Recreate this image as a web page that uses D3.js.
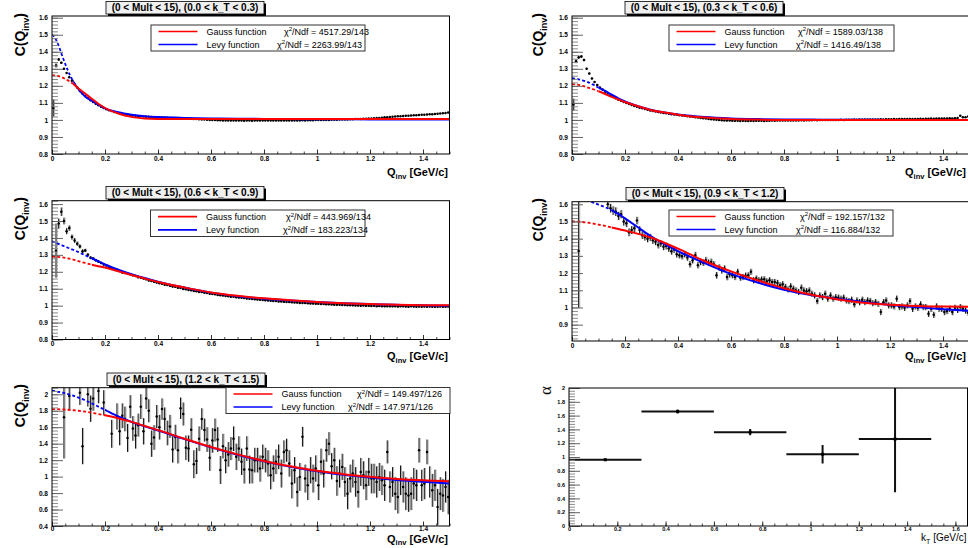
<!DOCTYPE html>
<html>
<head>
<meta charset="utf-8">
<script src="https://cdn.jsdelivr.net/npm/d3@7"></script>
<style>
  html, body { margin: 0; padding: 0; background: #fff; }
  svg { display: block; font-family: "Liberation Sans", Arial, Helvetica, sans-serif; }
</style>
</head>
<body>
<svg id="canvas" width="968" height="548"></svg>
<script>
// ---------------------------------------------------------------------------
// Data: two-pion correlation functions C(Q_inv) in five k_T bins,
// 0 < Mult < 15, 150 bins of 0.01 GeV/c, with Gauss and Levy fits.
// ---------------------------------------------------------------------------
const qBinCentres = d3.range(150).map(i => +(0.005 + 0.01 * i).toFixed(3));

const ktBinLabels = [["0.0", "0.3"], ["0.3", "0.6"], ["0.6", "0.9"], ["0.9", "1.2"], ["1.2", "1.5"]];

// correlation function values, k_T 0.0-0.3
const cfKt1 = [
  1.07, 1.32, 1.355, 1.335, 1.30, 1.275, 1.25, 1.23, 1.21, 1.19,
  1.17, 1.155, 1.14, 1.128, 1.116, 1.105, 1.095, 1.086, 1.077, 1.07,
  1.063, 1.057, 1.052, 1.047, 1.043, 1.039, 1.036, 1.033, 1.030, 1.028,
  1.026, 1.024, 1.022, 1.021, 1.020, 1.019, 1.018, 1.017, 1.016, 1.016,
  1.015, 1.014, 1.014, 1.013, 1.012, 1.012, 1.011, 1.011, 1.010, 1.010,
  1.009, 1.008, 1.007, 1.006, 1.005, 1.004, 1.003, 1.002, 1.001, 1.000,
  0.999, 0.999, 0.998, 0.998, 0.997, 0.997, 0.997, 0.996, 0.996, 0.996,
  0.996, 0.996, 0.995, 0.996, 0.996, 0.995, 0.996, 0.996, 0.996, 0.996,
  0.996, 0.996, 0.997, 0.996, 0.996, 0.997, 0.997, 0.996, 0.997, 0.997,
  0.997, 0.997, 0.996, 0.997, 0.998, 0.997, 0.998, 0.998, 0.998, 0.999,
  0.999, 0.999, 1.000, 1.000, 1.000, 1.001, 1.001, 1.001, 1.002, 1.002,
  1.003, 1.003, 1.004, 1.004, 1.005, 1.005, 1.006, 1.007, 1.007, 1.008,
  1.008, 1.010, 1.011, 1.012, 1.013, 1.015, 1.016, 1.017, 1.018, 1.020,
  1.021, 1.022, 1.023, 1.024, 1.025, 1.026, 1.027, 1.028, 1.029, 1.030,
  1.031, 1.032, 1.033, 1.034, 1.035, 1.036, 1.037, 1.039, 1.041, 1.044
];
const cfErrKt1 = [
  0.05, 0.012, 0.008, 0.006, 0.005, 0.005, 0.004, 0.004, 0.004, 0.003,
  0.003, 0.003, 0.003, 0.003, 0.003, 0.003, 0.003, 0.003, 0.003, 0.003,
  0.002, 0.002, 0.002, 0.002, 0.002, 0.002, 0.002, 0.002, 0.002, 0.002,
  0.002, 0.002, 0.002, 0.002, 0.002, 0.002, 0.002, 0.002, 0.002, 0.002,
  0.002, 0.002, 0.002, 0.002, 0.002, 0.002, 0.002, 0.002, 0.002, 0.002,
  0.002, 0.002, 0.002, 0.002, 0.002, 0.002, 0.002, 0.002, 0.002, 0.002,
  0.002, 0.002, 0.002, 0.002, 0.002, 0.002, 0.002, 0.002, 0.002, 0.002,
  0.002, 0.002, 0.002, 0.002, 0.002, 0.002, 0.002, 0.002, 0.002, 0.002,
  0.002, 0.002, 0.002, 0.002, 0.002, 0.002, 0.002, 0.002, 0.002, 0.002,
  0.002, 0.002, 0.002, 0.002, 0.002, 0.002, 0.002, 0.002, 0.002, 0.002,
  0.002, 0.002, 0.002, 0.002, 0.002, 0.002, 0.002, 0.002, 0.002, 0.002,
  0.002, 0.002, 0.002, 0.002, 0.002, 0.002, 0.002, 0.002, 0.002, 0.002,
  0.002, 0.002, 0.002, 0.002, 0.002, 0.002, 0.002, 0.002, 0.002, 0.002,
  0.002, 0.002, 0.002, 0.002, 0.002, 0.002, 0.002, 0.002, 0.002, 0.002,
  0.002, 0.002, 0.002, 0.002, 0.002, 0.002, 0.002, 0.002, 0.002, 0.002
];

// k_T 0.3-0.6
const cfKt2 = [
  1.09, 1.345, 1.368, 1.372, 1.352, 1.30, 1.272, 1.243, 1.222, 1.205,
  1.19, 1.178, 1.166, 1.155, 1.145, 1.136, 1.127, 1.119, 1.112, 1.105,
  1.099, 1.093, 1.087, 1.082, 1.077, 1.072, 1.068, 1.064, 1.060, 1.056,
  1.053, 1.050, 1.047, 1.044, 1.041, 1.039, 1.036, 1.034, 1.032, 1.030,
  1.028, 1.026, 1.024, 1.022, 1.020, 1.018, 1.016, 1.014, 1.012, 1.010,
  1.008, 1.006, 1.004, 1.002, 1.001, 0.999, 0.998, 0.997, 0.996, 0.996,
  0.995, 0.995, 0.995, 0.994, 0.995, 0.994, 0.994, 0.995, 0.994, 0.995,
  0.995, 0.995, 0.994, 0.995, 0.995, 0.996, 0.995, 0.996, 0.996, 0.996,
  0.996, 0.997, 0.996, 0.997, 0.997, 0.997, 0.998, 0.997, 0.998, 0.998,
  0.998, 0.999, 0.998, 0.999, 0.999, 1.000, 0.999, 1.000, 1.000, 1.000,
  1.000, 1.001, 1.000, 1.001, 1.001, 1.001, 1.002, 1.001, 1.002, 1.002,
  1.002, 1.003, 1.002, 1.003, 1.003, 1.003, 1.004, 1.003, 1.004, 1.004,
  1.004, 1.005, 1.004, 1.005, 1.005, 1.005, 1.006, 1.005, 1.006, 1.006,
  1.006, 1.007, 1.006, 1.007, 1.007, 1.008, 1.007, 1.008, 1.008, 1.009,
  1.008, 1.009, 1.010, 1.009, 1.010, 1.012, 1.025, 1.015, 1.016, 1.020
];
const cfErrKt2 = [
  0.035, 0.012, 0.010, 0.008, 0.007, 0.006, 0.005, 0.005, 0.005, 0.005,
  0.004, 0.004, 0.004, 0.004, 0.004, 0.004, 0.004, 0.004, 0.004, 0.004,
  0.004, 0.004, 0.004, 0.004, 0.004, 0.004, 0.004, 0.004, 0.004, 0.004,
  0.003, 0.003, 0.003, 0.003, 0.003, 0.003, 0.003, 0.003, 0.003, 0.003,
  0.003, 0.003, 0.003, 0.003, 0.003, 0.003, 0.003, 0.003, 0.003, 0.003,
  0.003, 0.003, 0.003, 0.003, 0.003, 0.003, 0.003, 0.003, 0.003, 0.003,
  0.003, 0.003, 0.003, 0.003, 0.003, 0.003, 0.003, 0.003, 0.003, 0.003,
  0.003, 0.003, 0.003, 0.003, 0.003, 0.003, 0.003, 0.003, 0.003, 0.003,
  0.003, 0.003, 0.003, 0.003, 0.003, 0.003, 0.003, 0.003, 0.003, 0.003,
  0.003, 0.003, 0.003, 0.003, 0.003, 0.003, 0.003, 0.003, 0.003, 0.003,
  0.003, 0.003, 0.003, 0.003, 0.003, 0.003, 0.003, 0.003, 0.003, 0.003,
  0.003, 0.003, 0.003, 0.003, 0.003, 0.003, 0.003, 0.003, 0.003, 0.003,
  0.003, 0.003, 0.003, 0.003, 0.003, 0.003, 0.003, 0.003, 0.003, 0.003,
  0.003, 0.003, 0.003, 0.003, 0.003, 0.003, 0.003, 0.003, 0.003, 0.003,
  0.003, 0.003, 0.003, 0.003, 0.003, 0.003, 0.003, 0.003, 0.003, 0.003
];

// k_T 0.6-0.9
const cfKt3 = [
  null, 1.325, 1.485, 1.555, 1.50, 1.44, 1.458, 1.405, 1.385, 1.366,
  1.35, 1.322, 1.326, 1.30, 1.283, 1.278, 1.268, 1.26, 1.252, 1.243,
  1.237, 1.229, 1.222, 1.217, 1.211, 1.205, 1.196, 1.193, 1.188, 1.186,
  1.179, 1.175, 1.168, 1.165, 1.160, 1.156, 1.149, 1.146, 1.141, 1.137,
  1.133, 1.130, 1.124, 1.122, 1.117, 1.113, 1.111, 1.106, 1.104, 1.099,
  1.097, 1.093, 1.091, 1.087, 1.085, 1.081, 1.080, 1.076, 1.074, 1.071,
  1.069, 1.067, 1.063, 1.062, 1.060, 1.057, 1.056, 1.053, 1.052, 1.049,
  1.048, 1.046, 1.045, 1.042, 1.041, 1.039, 1.038, 1.036, 1.035, 1.033,
  1.032, 1.031, 1.029, 1.028, 1.027, 1.025, 1.025, 1.023, 1.022, 1.021,
  1.020, 1.019, 1.018, 1.016, 1.016, 1.015, 1.014, 1.013, 1.013, 1.011,
  1.011, 1.010, 1.009, 1.008, 1.008, 1.007, 1.006, 1.006, 1.005, 1.004,
  1.004, 1.003, 1.003, 1.002, 1.001, 1.001, 1.000, 1.001, 0.999, 0.999,
  0.998, 0.999, 0.997, 0.998, 0.997, 0.996, 0.997, 0.996, 0.996, 0.997,
  0.995, 0.996, 0.996, 0.995, 0.994, 0.996, 0.995, 0.994, 0.995, 0.994,
  0.995, 0.993, 0.995, 0.994, 0.994, 0.993, 0.995, 0.994, 0.993, 0.995
];
const cfErrKt3 = [
  null, 0.16, 0.03, 0.025, 0.02, 0.018, 0.016, 0.015, 0.014, 0.013,
  0.012, 0.011, 0.010, 0.010, 0.009, 0.009, 0.008, 0.008, 0.007, 0.007,
  0.006, 0.006, 0.006, 0.006, 0.006, 0.006, 0.006, 0.006, 0.006, 0.006,
  0.006, 0.006, 0.006, 0.006, 0.006, 0.006, 0.006, 0.006, 0.006, 0.006,
  0.006, 0.006, 0.006, 0.006, 0.006, 0.006, 0.006, 0.006, 0.006, 0.006,
  0.005, 0.005, 0.005, 0.005, 0.005, 0.005, 0.005, 0.005, 0.005, 0.005,
  0.005, 0.005, 0.005, 0.005, 0.005, 0.005, 0.005, 0.005, 0.005, 0.005,
  0.005, 0.005, 0.005, 0.005, 0.005, 0.005, 0.005, 0.005, 0.005, 0.005,
  0.005, 0.005, 0.005, 0.005, 0.005, 0.005, 0.005, 0.005, 0.005, 0.005,
  0.005, 0.005, 0.005, 0.005, 0.005, 0.005, 0.005, 0.005, 0.005, 0.005,
  0.005, 0.005, 0.005, 0.005, 0.005, 0.005, 0.005, 0.005, 0.005, 0.005,
  0.005, 0.005, 0.005, 0.005, 0.005, 0.005, 0.005, 0.005, 0.005, 0.005,
  0.005, 0.005, 0.005, 0.005, 0.005, 0.005, 0.005, 0.005, 0.005, 0.005,
  0.005, 0.005, 0.005, 0.005, 0.005, 0.005, 0.005, 0.005, 0.005, 0.005,
  0.005, 0.005, 0.005, 0.005, 0.005, 0.005, 0.005, 0.005, 0.005, 0.005
];

// k_T 0.9-1.2 (bins above the frame are left out)
const cfKt4 = [
  null, null, 1.328, null, null, null, null, null, null, null,
  null, null, null, 1.600, 1.577, 1.563, 1.557, 1.532, 1.542, 1.500,
  1.490, 1.437, 1.450, 1.460, 1.505, 1.450, 1.420, 1.410, 1.400, 1.407,
  1.390, 1.382, 1.363, 1.372, 1.353, 1.357, 1.343, 1.327, 1.337, 1.310,
  1.304, 1.298, 1.310, 1.290, 1.251, 1.275, 1.304, 1.246, 1.265, 1.260,
  1.275, 1.260, 1.265, 1.251, 1.187, 1.232, 1.216, 1.226, 1.177, 1.193,
  1.187, 1.177, 1.207, 1.173, 1.177, 1.185, 1.187, 1.207, 1.158, 1.168,
  1.158, 1.162, 1.164, 1.152, 1.158, 1.148, 1.148, 1.142, 1.129, 1.135,
  1.119, 1.105, 1.123, 1.109, 1.099, 1.090, 1.115, 1.099, 1.094, 1.099,
  1.080, 1.070, 1.037, 1.070, 1.060, 1.080, 1.051, 1.070, 1.051, 1.060,
  1.057, 1.051, 1.057, 1.041, 1.037, 1.045, 1.018, 1.041, 1.031, 1.045,
  1.031, 1.041, 1.037, 1.025, 1.031, 1.021, 0.973, 1.031, 1.041, 1.012,
  1.012, 1.006, 1.051, 1.002, 1.006, 0.998, 1.012, 1.037, 0.992, 1.006,
  0.998, 1.018, 1.002, 1.002, 0.963, 0.992, 0.957, 1.006, 0.992, 0.992,
  0.973, 0.979, 0.992, 0.973, 0.998, 0.986, 1.002, 0.992, 0.982, 0.969
];
const cfErrKt4 = [
  null, null, 0.33, null, null, null, null, null, null, null,
  null, null, null, 0.025, 0.025, 0.025, 0.025, 0.024, 0.024, 0.024,
  0.023, 0.023, 0.023, 0.022, 0.022, 0.022, 0.022, 0.021, 0.021, 0.021,
  0.021, 0.020, 0.020, 0.020, 0.020, 0.020, 0.020, 0.020, 0.020, 0.020,
  0.019, 0.019, 0.019, 0.019, 0.019, 0.019, 0.019, 0.019, 0.019, 0.019,
  0.019, 0.019, 0.019, 0.019, 0.019, 0.019, 0.019, 0.019, 0.019, 0.019,
  0.018, 0.018, 0.018, 0.018, 0.018, 0.018, 0.018, 0.018, 0.018, 0.018,
  0.018, 0.018, 0.018, 0.018, 0.018, 0.018, 0.018, 0.018, 0.018, 0.018,
  0.018, 0.018, 0.018, 0.018, 0.018, 0.018, 0.018, 0.018, 0.018, 0.018,
  0.018, 0.018, 0.018, 0.018, 0.018, 0.018, 0.018, 0.018, 0.018, 0.018,
  0.018, 0.018, 0.018, 0.018, 0.018, 0.018, 0.018, 0.018, 0.018, 0.018,
  0.018, 0.018, 0.018, 0.018, 0.018, 0.018, 0.018, 0.018, 0.018, 0.018,
  0.018, 0.018, 0.018, 0.018, 0.018, 0.018, 0.018, 0.018, 0.018, 0.018,
  0.018, 0.018, 0.018, 0.018, 0.018, 0.018, 0.018, 0.018, 0.018, 0.018,
  0.018, 0.018, 0.018, 0.018, 0.018, 0.018, 0.018, 0.018, 0.018, 0.018
];

// k_T 1.2-1.5 (bins above the frame are left out)
const cfKt5 = [
  null, null, null, null, 1.72, null, 1.98, null, null, null,
  2.02, 1.37, null, 2.00, 1.825, 1.95, null, 2.04, null, 1.90,
  null, null, 1.52, null, 1.73, 1.55, 1.74, 1.70, 1.47, 1.85,
  1.585, 1.50, 1.625, 1.85, 1.55, 1.95, 1.80, 1.40, 1.475, 1.73,
  1.60, 1.82, 1.70, 1.53, 1.61, 1.33, 1.48, 1.32, 1.83, 1.76,
  1.35, 1.34, 1.57, 1.15, 1.19, 1.46, 1.70, 1.565, 1.45, 1.23,
  1.44, 1.565, 1.45, 1.08, 1.37, 1.20, 1.27, 1.34, 1.46, 1.24,
  1.34, 1.18, 1.085, 1.34, 1.085, 1.077, 1.20, 1.20, 1.098, 1.24,
  1.20, 1.16, 1.016, 1.098, 1.18, 1.24, 1.037, 1.30, 1.32, 1.16,
  0.915, 1.077, 0.813, 0.996, 1.484, 0.976, 0.894, 1.077, 0.976, 1.098,
  0.894, 1.18, 1.037, 1.32, 1.40, 1.126, 1.20, 0.947, 1.037, 1.118,
  0.935, 0.793, 0.976, 1.037, 0.935, 0.813, 1.057, 1.016, 0.894, 1.057,
  0.976, 0.976, 0.935, 0.996, 0.955, 0.894, 1.30, 0.874, 0.935, 0.793,
  0.752, 0.955, 0.874, 0.793, 0.772, 0.793, 0.915, 0.894, 1.32, 0.894,
  0.915, 1.30, 0.935, 0.833, 0.894, 0.63, 0.793, 0.772, 0.874, 0.752
];
const cfErrKt5 = [
  null, null, null, null, 0.5, null, 0.16, null, null, null,
  0.15, 0.22, null, 0.15, 0.16, 0.15, null, 0.15, null, 0.15,
  null, null, 0.17, null, 0.16, 0.17, 0.15, 0.15, 0.17, 0.14,
  0.15, 0.16, 0.14, 0.15, 0.16, 0.13, 0.14, 0.16, 0.15, 0.14,
  0.15, 0.13, 0.14, 0.15, 0.14, 0.16, 0.15, 0.16, 0.13, 0.14,
  0.15, 0.16, 0.14, 0.17, 0.16, 0.15, 0.13, 0.14, 0.15, 0.16,
  0.15, 0.14, 0.15, 0.17, 0.15, 0.16, 0.15, 0.14, 0.15, 0.16,
  0.15, 0.16, 0.17, 0.15, 0.17, 0.16, 0.15, 0.15, 0.16, 0.15,
  0.15, 0.16, 0.17, 0.16, 0.15, 0.15, 0.17, 0.14, 0.14, 0.16,
  0.18, 0.16, 0.18, 0.17, 0.12, 0.17, 0.18, 0.16, 0.17, 0.16,
  0.18, 0.16, 0.17, 0.14, 0.14, 0.16, 0.15, 0.18, 0.17, 0.16,
  0.18, 0.19, 0.17, 0.17, 0.18, 0.19, 0.17, 0.17, 0.18, 0.17,
  0.18, 0.18, 0.19, 0.17, 0.18, 0.19, 0.14, 0.19, 0.18, 0.20,
  0.20, 0.18, 0.19, 0.20, 0.20, 0.20, 0.19, 0.19, 0.15, 0.19,
  0.19, 0.15, 0.19, 0.20, 0.19, 0.22, 0.20, 0.20, 0.19, 0.21
];

// fit curves, sampled at these Q_inv values (GeV/c)
const fitKnots = [0, 0.01, 0.02, 0.04, 0.06, 0.08, 0.1, 0.125, 0.15, 0.175, 0.2, 0.25, 0.3,
                  0.35, 0.4, 0.5, 0.6, 0.7, 0.8, 0.9, 1.0, 1.1, 1.2, 1.3, 1.4, 1.5];

const gaussKt1 = [1.262, 1.261, 1.258, 1.248, 1.232, 1.212, 1.185, 1.155, 1.124, 1.095, 1.070, 1.038, 1.018,
                  1.009, 1.006, 1.005, 1.005, 1.005, 1.005, 1.005, 1.005, 1.005, 1.005, 1.005, 1.005, 1.005];
const levyKt1  = [1.500, 1.485, 1.455, 1.370, 1.290, 1.226, 1.180, 1.138, 1.113, 1.090, 1.068, 1.045, 1.031,
                  1.022, 1.017, 1.012, 1.009, 1.007, 1.006, 1.005, 1.004, 1.004, 1.003, 1.003, 1.003, 1.003];

const gaussKt2 = [1.210, 1.209, 1.207, 1.200, 1.190, 1.180, 1.168, 1.152, 1.135, 1.120, 1.105, 1.080, 1.057,
                  1.043, 1.031, 1.014, 1.006, 1.002, 1.000, 1.000, 1.000, 1.000, 1.000, 1.000, 1.000, 1.000];
const levyKt2  = [1.245, 1.243, 1.240, 1.232, 1.222, 1.207, 1.190, 1.170, 1.148, 1.127, 1.108, 1.080, 1.058,
                  1.043, 1.032, 1.017, 1.009, 1.005, 1.003, 1.002, 1.001, 1.001, 1.000, 1.000, 1.000, 1.000];

const gaussKt3 = [1.290, 1.289, 1.288, 1.285, 1.279, 1.272, 1.263, 1.252, 1.242, 1.233, 1.225, 1.203, 1.181,
                  1.160, 1.140, 1.107, 1.078, 1.058, 1.043, 1.032, 1.022, 1.014, 1.009, 1.005, 1.003, 1.002];
const levyKt3  = [1.380, 1.375, 1.368, 1.355, 1.342, 1.330, 1.316, 1.298, 1.280, 1.262, 1.243, 1.213, 1.186,
                  1.163, 1.142, 1.107, 1.077, 1.056, 1.041, 1.030, 1.021, 1.014, 1.009, 1.005, 1.002, 1.000];

const gaussKt4 = [1.500, 1.500, 1.499, 1.497, 1.493, 1.488, 1.482, 1.474, 1.465, 1.456, 1.447, 1.428, 1.405,
                  1.375, 1.342, 1.270, 1.210, 1.158, 1.112, 1.075, 1.048, 1.028, 1.016, 1.009, 1.005, 1.004];
const levyKt4  = [1.660, 1.655, 1.650, 1.638, 1.624, 1.610, 1.598, 1.583, 1.565, 1.544, 1.518, 1.465, 1.412,
                  1.368, 1.328, 1.258, 1.195, 1.145, 1.103, 1.072, 1.050, 1.032, 1.015, 1.002, 0.990, 0.980];

const gaussKt5 = [1.820, 1.820, 1.819, 1.816, 1.812, 1.806, 1.800, 1.790, 1.776, 1.760, 1.745, 1.710, 1.665,
                  1.615, 1.565, 1.460, 1.360, 1.270, 1.190, 1.125, 1.070, 1.030, 0.998, 0.972, 0.955, 0.945];
const levyKt5  = [2.045, 2.040, 2.033, 2.020, 2.003, 1.983, 1.960, 1.927, 1.890, 1.850, 1.810, 1.730, 1.665,
                  1.610, 1.560, 1.455, 1.355, 1.265, 1.185, 1.120, 1.065, 1.022, 0.988, 0.960, 0.937, 0.915];

// lower end of each fit range; the curves are dashed below it
const fitRangeStart = [0.08, 0.1, 0.15, 0.15, 0.2];

// chi2/Ndf of the fits: [Gauss, Levy]
const chi2Gauss = ["4517.29/143", "1589.03/138", "443.969/134", "192.157/132", "149.497/126"];
const chi2Levy  = ["2263.99/143", "1416.49/138", "183.223/134", "116.884/132", "147.971/126"];

// Levy exponent alpha versus k_T
const ktCentres   = [0.15, 0.45, 0.75, 1.05, 1.35];
const ktHalfWidth = [0.15, 0.15, 0.15, 0.15, 0.15];
const alphaValues = [0.96, 1.66, 1.36, 1.04, 1.26];
const alphaErrors = [0.015, 0.03, 0.045, 0.135, 0.77];

// axis tick labels
const qTickLabels      = [0, 0.2, 0.4, 0.6, 0.8, 1, 1.2, 1.4];
const cfTickLabels     = [0.8, 0.9, 1, 1.1, 1.2, 1.3, 1.4, 1.5, 1.6];
const cfTickLabelsKt4  = [0.9, 1, 1.1, 1.2, 1.3, 1.4, 1.5, 1.6];
const cfTickLabelsWide = [0.4, 0.6, 0.8, 1, 1.2, 1.4, 1.6, 1.8, 2];
const alphaTickLabels  = [0, 0.2, 0.4, 0.6, 0.8, 1, 1.2, 1.4, 1.6, 1.8, 2];
const ktTickLabels     = [0, 0.2, 0.4, 0.6, 0.8, 1, 1.2, 1.4, 1.6];

// ---------------------------------------------------------------------------
// Layout of the six pads
// ---------------------------------------------------------------------------
const pads = [
  { id: 1, values: cfKt1, errors: cfErrKt1, gauss: gaussKt1, levy: levyKt1,
    left: 52, right: 449.5, top: 16, bottom: 154, yDom: [0.8, 1.61],
    yLabels: cfTickLabels, yMinor: 0.02, xLabelPad: 2,
    title: { x: 106, y: 1.5 }, legend: { x: 151, y: 25, w: 214, h: 26 }, chiX: [284, 277],
    xTitleY: 176, yTitle: { x: 25, y: 13 } },
  { id: 2, values: cfKt2, errors: cfErrKt2, gauss: gaussKt2, levy: levyKt2,
    left: 572, right: 969.5, top: 16, bottom: 154, yDom: [0.8, 1.61],
    yLabels: cfTickLabels, yMinor: 0.02, xLabelPad: 2,
    title: { x: 625, y: 1.5 }, legend: { x: 669, y: 25, w: 225, h: 26 }, chiX: [798, 796],
    xTitleY: 176, yTitle: { x: 543, y: 13 } },
  { id: 3, values: cfKt3, errors: cfErrKt3, gauss: gaussKt3, levy: levyKt3,
    left: 52, right: 449.5, top: 200.7, bottom: 339.5, yDom: [0.8, 1.62],
    yLabels: cfTickLabels, yMinor: 0.02, xLabelPad: 2,
    title: { x: 106, y: 186.5 }, legend: { x: 150.5, y: 210, w: 214.5, h: 26.5 }, chiX: [286, 283],
    xTitleY: 360, yTitle: { x: 25, y: 197 } },
  { id: 4, values: cfKt4, errors: cfErrKt4, gauss: gaussKt4, levy: levyKt4,
    left: 572, right: 969.5, top: 201.7, bottom: 341, yDom: [0.805, 1.615],
    yLabels: cfTickLabelsKt4, yMinor: 0.02, xLabelPad: 2,
    title: { x: 626, y: 187.5 }, legend: { x: 669, y: 210, w: 224, h: 26 }, chiX: [800, 796],
    xTitleY: 360, yTitle: { x: 543, y: 198 } },
  { id: 5, values: cfKt5, errors: cfErrKt5, gauss: gaussKt5, levy: levyKt5,
    left: 52, right: 449.5, top: 387.7, bottom: 526, yDom: [0.4, 2.08],
    yLabels: cfTickLabelsWide, yMinor: 0.04, xLabelPad: 0.3,
    title: { x: 107, y: 373 }, legend: { x: 226, y: 387.5, w: 224, h: 26 }, chiX: [357, 348],
    xTitleY: 542.5, yTitle: { x: 25, y: 384 } }
];

const svg = d3.select("#canvas");
const defs = svg.append("defs");
const fmt = d3.format("~g");

function minorValues(lo, hi, step) {
  return d3.range(Math.ceil(lo / step - 1e-6), Math.floor(hi / step + 1e-6) + 1)
    .map(k => +(k * step).toFixed(4)).filter(v => v >= lo - 1e-9 && v <= hi + 1e-9);
}

function addClip(id, x0, y0, x1, y1) {
  defs.append("clipPath").attr("id", id).append("rect")
    .attr("x", x0).attr("y", y0).attr("width", x1 - x0).attr("height", y1 - y0);
  return `url(#${id})`;
}

function styleTickText(sel, size) {
  sel.selectAll("text")
    .style("font-size", size + "px").style("font-weight", "bold")
    .style("font-family", '"Liberation Sans", Arial, sans-serif').attr("fill", "#000");
}

// axes of a pad: labelled major ticks plus unlabelled minor ticks, ROOT-style inward
function drawAxes(g, x, y, p, xLabels, yLabels, xMinorStep, yMinorStep, labelSize) {
  const yMinorAxis = d3.axisLeft(y)
    .tickValues(minorValues(y.domain()[0], y.domain()[1], yMinorStep))
    .tickSize(-6).tickFormat("");
  const gym = g.append("g").attr("transform", `translate(${p.left},0)`).call(yMinorAxis);
  gym.select(".domain").remove();
  gym.selectAll("line").attr("stroke", "#8a8a8a");

  const yMajorAxis = d3.axisLeft(y).tickValues(yLabels).tickSize(-11).tickPadding(4).tickFormat(fmt);
  const gy = g.append("g").attr("transform", `translate(${p.left},0)`).call(yMajorAxis);
  gy.select(".domain").remove();
  gy.selectAll("line").attr("stroke", "#666");
  styleTickText(gy, labelSize);

  const xMinorAxis = d3.axisBottom(x)
    .tickValues(minorValues(x.domain()[0], Math.min(x.domain()[1], 1.65), xMinorStep))
    .tickSize(-2.5).tickFormat("");
  const gxm = g.append("g").attr("transform", `translate(0,${p.bottom})`).call(xMinorAxis);
  gxm.select(".domain").remove();
  gxm.selectAll("line").attr("stroke", "#444");

  const xMajorAxis = d3.axisBottom(x).tickValues(xLabels).tickSize(-4.5)
    .tickPadding(p.xLabelPad).tickFormat(fmt);
  const gx = g.append("g").attr("transform", `translate(0,${p.bottom})`).call(xMajorAxis);
  gx.select(".domain").remove();
  gx.selectAll("line").attr("stroke", "#333");
  styleTickText(gx, labelSize);

  // frame box
  g.append("rect").attr("x", p.left).attr("y", p.top)
    .attr("width", p.right - p.left).attr("height", p.bottom - p.top)
    .attr("fill", "none").attr("stroke", "#000").attr("stroke-width", 1);
}

function drawCorrelationPad(p, k) {
  const g = svg.append("g");
  const x = d3.scaleLinear().domain([0, 1.5]).range([p.left, p.left + 1.5 * 265]);
  const y = d3.scaleLinear().domain(p.yDom).range([p.bottom, p.top]);

  const frameClip = addClip("frame" + p.id, p.left, p.top, p.right, p.bottom);
  const xs = x(fitRangeStart[k]);
  const dashClip = addClip("dash" + p.id, p.left, p.top, xs, p.bottom);
  const solidClip = addClip("solid" + p.id, xs, p.top, p.right, p.bottom);

  // data points with error bars
  const pts = qBinCentres.map((q, i) => ({ q, v: p.values[i], e: p.errors[i] }))
    .filter(d => d.v != null);
  const gd = g.append("g").attr("clip-path", frameClip);
  gd.selectAll("line.shade").data(pts).join("line").attr("class", "shade")
    .attr("x1", d => x(d.q) + 1.1).attr("x2", d => x(d.q) + 1.1)
    .attr("y1", d => y(d.v - d.e)).attr("y2", d => y(d.v + d.e))
    .attr("stroke", "#b0b0b0").attr("stroke-width", 1);
  gd.selectAll("line.err").data(pts).join("line").attr("class", "err")
    .attr("x1", d => x(d.q)).attr("x2", d => x(d.q))
    .attr("y1", d => y(d.v - d.e)).attr("y2", d => y(d.v + d.e))
    .attr("stroke", "#111").attr("stroke-width", 1);
  gd.selectAll("circle").data(pts).join("circle")
    .attr("cx", d => x(d.q)).attr("cy", d => y(d.v)).attr("r", 1.25).attr("fill", "#000");

  // fit curves: Levy below Gauss, dashed outside the fit range
  const line = d3.line().x(d => x(d[0])).y(d => y(d[1])).curve(d3.curveMonotoneX);
  [[p.levy, "#0000ff"], [p.gauss, "#ff0000"]].forEach(([vals, col]) => {
    const path = line(fitKnots.map((q, i) => [q, vals[i]]));
    const gc = g.append("g").attr("clip-path", frameClip);
    gc.append("path").attr("d", path).attr("clip-path", dashClip)
      .attr("fill", "none").attr("stroke", col).attr("stroke-width", 1.8)
      .attr("stroke-dasharray", "3,2.2");
    gc.append("path").attr("d", path).attr("clip-path", solidClip)
      .attr("fill", "none").attr("stroke", col).attr("stroke-width", 2);
  });

  drawAxes(g, x, y, p, qTickLabels, p.yLabels, 0.05, p.yMinor, 6.5);

  // axis titles
  const xt = g.append("text").attr("x", Math.min(p.right - 1.5, 966)).attr("y", p.xTitleY)
    .attr("text-anchor", "end").style("font-weight", "bold").style("font-size", "11px");
  xt.append("tspan").text("Q");
  xt.append("tspan").attr("dy", 2.5).style("font-size", "7.5px").text("inv");
  xt.append("tspan").attr("dy", -2.5).text(" [GeV/c]");

  const yt = g.append("text")
    .attr("transform", `translate(${p.yTitle.x},${p.yTitle.y}) rotate(-90)`)
    .attr("text-anchor", "end").style("font-weight", "bold").style("font-size", "14px");
  yt.append("tspan").text("C(Q");
  yt.append("tspan").attr("dy", 3.5).style("font-size", "9px").text("inv");
  yt.append("tspan").attr("dy", -3.5).text(")");

  // title pave with shadow
  const tw = 158, th = 12.5;
  g.append("rect").attr("x", p.title.x + 2).attr("y", p.title.y + 2).attr("width", tw).attr("height", th)
    .attr("fill", "#000");
  g.append("rect").attr("x", p.title.x).attr("y", p.title.y).attr("width", tw).attr("height", th)
    .attr("fill", "#f0f0f0").attr("stroke", "#000").attr("stroke-width", 0.8);
  g.append("text").attr("x", p.title.x + tw / 2).attr("y", p.title.y + th / 2).attr("dy", "0.36em")
    .attr("text-anchor", "middle").style("font-weight", "bold").style("font-size", "10px")
    .text(`(0 < Mult < 15), (${ktBinLabels[k][0]} < k_T < ${ktBinLabels[k][1]})`);

  // legend
  const L = p.legend;
  g.append("rect").attr("x", L.x).attr("y", L.y).attr("width", L.w).attr("height", L.h)
    .attr("fill", "#fff").attr("stroke", "#333").attr("stroke-width", 1);
  const rows = [
    { col: "#ff0000", label: "Gauss function", chi: chi2Gauss[k], cx: p.chiX[0] },
    { col: "#0000ff", label: "Levy function", chi: chi2Levy[k], cx: p.chiX[1] }
  ];
  rows.forEach((r, i) => {
    const cy = L.y + L.h * (i === 0 ? 0.25 : 0.75);
    g.append("line").attr("x1", L.x + 7.5).attr("x2", L.x + 46.5).attr("y1", cy).attr("y2", cy)
      .attr("stroke", r.col).attr("stroke-width", 1.6);
    g.append("text").attr("x", L.x + 55.5).attr("y", cy).attr("dy", "0.35em")
      .style("font-size", "9px").text(r.label);
    const ct = g.append("text").attr("x", r.cx).attr("y", cy).attr("dy", "0.35em").style("font-size", "9px");
    ct.append("tspan").text("\u03c7");
    ct.append("tspan").attr("dy", -3.2).style("font-size", "6px").text("2");
    ct.append("tspan").attr("dy", 3.2).text("/Ndf = " + r.chi);
  });
}

pads.forEach((p, k) => drawCorrelationPad(p, k));

// ---------------------------------------------------------------------------
// alpha versus k_T
// ---------------------------------------------------------------------------
(function drawAlphaPad() {
  const p = { id: 6, left: 569, right: 967.5, top: 388, bottom: 526, xLabelPad: 1 };
  const g = svg.append("g");
  const x = d3.scaleLinear().domain([0, 1.65]).range([p.left, p.right]);
  const y = d3.scaleLinear().domain([0, 2]).range([p.bottom, p.top]);
  const clip = addClip("frame6", p.left, p.top, p.right, p.bottom);

  const pts = ktCentres.map((c, i) => ({ c, hw: ktHalfWidth[i], v: alphaValues[i], e: alphaErrors[i] }));
  const gd = g.append("g").attr("clip-path", clip);
  gd.selectAll("line.h").data(pts).join("line").attr("class", "h")
    .attr("x1", d => x(d.c - d.hw)).attr("x2", d => x(d.c + d.hw))
    .attr("y1", d => y(d.v)).attr("y2", d => y(d.v))
    .attr("stroke", "#111").attr("stroke-width", 2);
  gd.selectAll("line.v").data(pts).join("line").attr("class", "v")
    .attr("x1", d => x(d.c)).attr("x2", d => x(d.c))
    .attr("y1", d => y(d.v - d.e)).attr("y2", d => y(d.v + d.e))
    .attr("stroke", "#111").attr("stroke-width", 2);
  gd.selectAll("rect").data(pts).join("rect")
    .attr("x", d => x(d.c) - 1.5).attr("y", d => y(d.v) - 1.5).attr("width", 3).attr("height", 3)
    .attr("fill", "#000");

  drawAxes(g, x, y, p, ktTickLabels, alphaTickLabels, 0.05, 0.04, 5.5);

  const xt = g.append("text").attr("x", 966.5).attr("y", 541)
    .attr("text-anchor", "end").style("font-size", "10px");
  xt.append("tspan").text("k");
  xt.append("tspan").attr("dy", 2.5).style("font-size", "7px").text("T");
  xt.append("tspan").attr("dy", -2.5).text(" [GeV/c]");

  g.append("text").attr("transform", `translate(551,386) rotate(-90)`)
    .attr("text-anchor", "end").style("font-family", '"Liberation Serif", "DejaVu Serif", serif')
    .style("font-size", "17px").text("\u03b1");
})();
</script>
</body>
</html>
